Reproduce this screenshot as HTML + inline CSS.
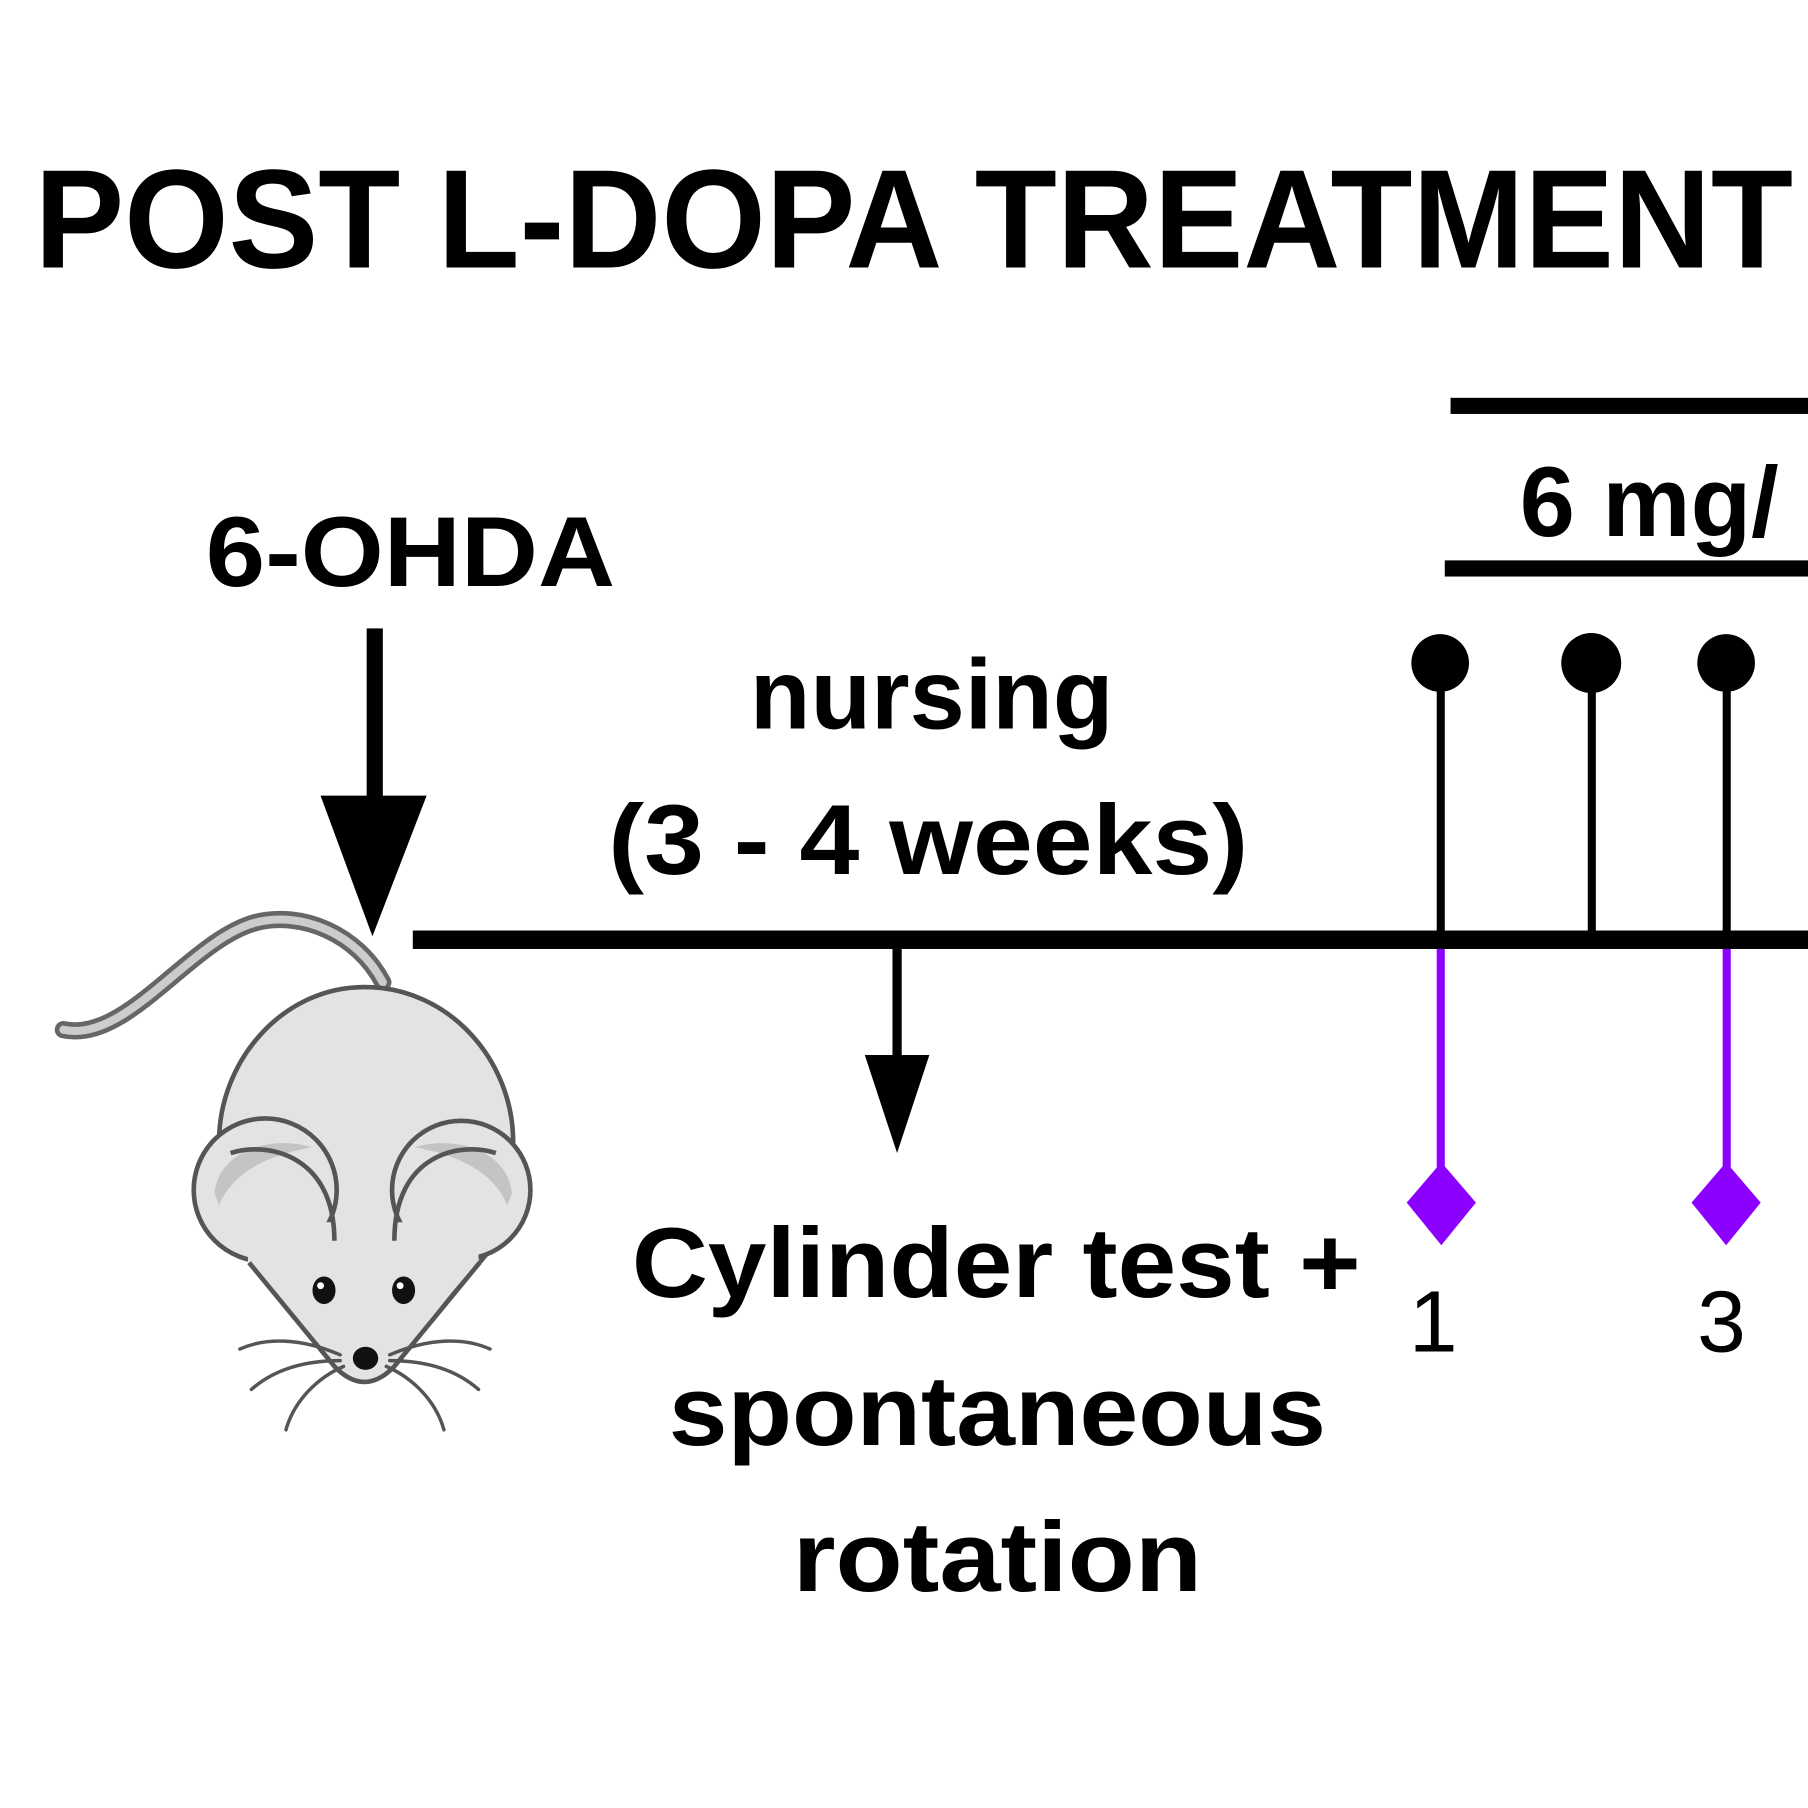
<!DOCTYPE html>
<html><head><meta charset="utf-8"><style>
html,body{margin:0;padding:0;background:#fff;}
svg{display:block;}
</style></head><body>
<svg width="1808" height="1808" viewBox="0 0 1568 1568" xmlns="http://www.w3.org/2000/svg">
<rect width="1568" height="1568" fill="#fff"/>
<text x="30" y="232" font-family="Liberation Sans, Arial, sans-serif" font-weight="bold" font-size="122" textLength="1525" lengthAdjust="spacingAndGlyphs">POST L-DOPA TREATMENT</text>

<!-- top bars -->
<rect x="1258" y="345" width="320" height="14" fill="#000"/>
<rect x="1253" y="486" width="320" height="14" fill="#000"/>
<text x="1318" y="465" font-family="Liberation Sans, sans-serif" font-weight="bold" font-size="86">6 mg/</text>

<!-- pins -->
<g fill="#000">
<circle cx="1249" cy="575" r="25"/><rect x="1246" y="575" width="7" height="240"/>
<circle cx="1380" cy="575" r="26"/><rect x="1377" y="575" width="7" height="240"/>
<circle cx="1497" cy="575" r="25"/><rect x="1494" y="575" width="7" height="240"/>
</g>

<!-- main timeline -->
<rect x="358" y="807" width="1220" height="16" fill="#000"/>

<!-- purple -->
<g fill="#8B00FF">
<rect x="1246" y="823" width="7" height="220"/>
<polygon points="1250,1008 1280,1043 1250,1080 1220,1043"/>
<rect x="1494" y="823" width="7" height="220"/>
<polygon points="1497,1008 1527,1043 1497,1080 1467,1043"/>
</g>
<text x="1243" y="1172" text-anchor="middle" font-family="Liberation Sans, sans-serif" font-size="76">1</text>
<text x="1493" y="1172" text-anchor="middle" font-family="Liberation Sans, sans-serif" font-size="76">3</text>

<!-- 6-OHDA -->
<text x="356" y="508" text-anchor="middle" font-family="Liberation Sans, sans-serif" font-weight="bold" font-size="86" textLength="355" lengthAdjust="spacingAndGlyphs">6-OHDA</text>
<rect x="318" y="545" width="14" height="150" fill="#000"/>
<polygon points="278,690 370,690 323,812" fill="#000"/>

<!-- nursing -->
<text x="808" y="632" text-anchor="middle" font-family="Liberation Sans, sans-serif" font-weight="bold" font-size="86">nursing</text>
<text x="805" y="758" text-anchor="middle" font-family="Liberation Sans, sans-serif" font-weight="bold" font-size="86" textLength="555" lengthAdjust="spacingAndGlyphs">(3 - 4 weeks)</text>

<!-- down arrow -->
<rect x="774" y="823" width="8" height="95" fill="#000"/>
<polygon points="750,915 806,915 778,1000" fill="#000"/>

<text x="864" y="1125" text-anchor="middle" font-family="Liberation Sans, sans-serif" font-weight="bold" font-size="86" textLength="632" lengthAdjust="spacingAndGlyphs">Cylinder test +</text>
<text x="865" y="1253" text-anchor="middle" font-family="Liberation Sans, sans-serif" font-weight="bold" font-size="86" textLength="570" lengthAdjust="spacingAndGlyphs">spontaneous</text>
<text x="865" y="1380" text-anchor="middle" font-family="Liberation Sans, sans-serif" font-weight="bold" font-size="86" textLength="355" lengthAdjust="spacingAndGlyphs">rotation</text>

<!-- mouse -->
<g>
<path d="M332,852 C310,810 262,790 222,800 C165,815 110,905 55,893" fill="none" stroke="#666" stroke-width="15" stroke-linecap="round"/>
<path d="M332,852 C310,810 262,790 222,800 C165,815 110,905 55,893" fill="none" stroke="#ccc" stroke-width="7" stroke-linecap="round"/>
<path d="M190,990 C190,920 245,856 316,856 C390,856 445,920 445,990 L445,1060 L345,1180 Q316,1212 287,1180 L190,1060 Z" fill="#e3e3e3" stroke="#555" stroke-width="4"/>
<circle cx="230" cy="1032" r="62" fill="#e3e3e3" stroke="#555" stroke-width="4"/>
<circle cx="400" cy="1032" r="60" fill="#e3e3e3" stroke="#555" stroke-width="4"/>
<path d="M186,1035 C190,995 240,985 270,995 C245,1000 205,1010 190,1045 Z" fill="#c4c4c4"/>
<path d="M444,1035 C440,995 390,985 360,995 C385,1000 425,1010 440,1045 Z" fill="#c4c4c4"/>
<path d="M215,1095 C240,1120 260,1150 290,1185 Q316,1212 342,1185 C370,1150 390,1120 415,1095 L415,1060 L215,1060 Z" fill="#e3e3e3"/>
<path d="M290,1076 C290,1000 230,990 200,1000" fill="none" stroke="#555" stroke-width="4"/>
<path d="M342,1076 C342,1000 400,990 430,1000" fill="none" stroke="#555" stroke-width="4"/>
<path d="M216,1095 L290,1185 Q316,1212 342,1185 L416,1095" fill="none" stroke="#555" stroke-width="4"/>
<ellipse cx="281" cy="1119" rx="10" ry="12" fill="#111"/>
<ellipse cx="350" cy="1119" rx="10" ry="12" fill="#111"/>
<circle cx="278" cy="1115" r="3" fill="#fff"/><circle cx="347" cy="1115" r="3" fill="#fff"/>
<ellipse cx="317" cy="1178" rx="11" ry="10" fill="#111"/>
<g fill="none" stroke="#555" stroke-width="3" stroke-linecap="round">
<path d="M295,1175 C260,1160 230,1160 208,1170"/>
<path d="M295,1180 C260,1180 235,1190 218,1205"/>
<path d="M298,1185 C275,1195 255,1215 248,1240"/>
<path d="M338,1175 C373,1160 403,1160 425,1170"/>
<path d="M338,1180 C373,1180 398,1190 415,1205"/>
<path d="M335,1185 C358,1195 378,1215 385,1240"/>
</g>
</g>
</svg>
</body></html>
